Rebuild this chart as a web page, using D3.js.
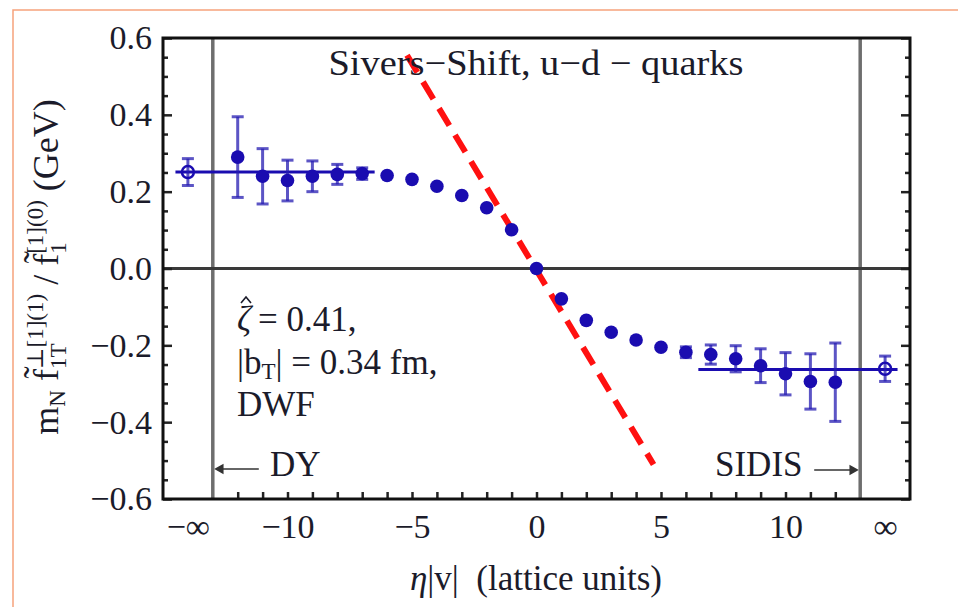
<!DOCTYPE html>
<html>
<head>
<meta charset="utf-8">
<script src="https://cdn.jsdelivr.net/npm/d3@7"></script>
<style>
  html, body { margin: 0; padding: 0; background: #fff; }
  svg { display: block; font-family: "Liberation Serif", "DejaVu Serif", serif; }
</style>
</head>
<body>
<svg id="chart" width="958" height="607"></svg>
<script>
// ---- data ----
var latticeX = [-12, -11, -10, -9, -8, -7, -6, -5, -4, -3, -2, -1, 0, 1, 2, 3, 4, 5, 6, 7, 8, 9, 10, 11, 12];
var shiftY   = [0.290, 0.240, 0.229, 0.240, 0.245, 0.247, 0.242, 0.232, 0.214, 0.190, 0.158, 0.101, 0.000,
                -0.079, -0.135, -0.166, -0.186, -0.205, -0.218, -0.224, -0.235, -0.253, -0.274, -0.294, -0.296];
var shiftErr = [0.105, 0.072, 0.053, 0.040, 0.026, 0.015, 0.010, 0.008, 0.006, 0.006, 0.006, 0.006, 0.004,
                0.006, 0.006, 0.006, 0.008, 0.010, 0.014, 0.025, 0.034, 0.044, 0.055, 0.072, 0.102];

// extrapolated values at -inf (DY) and +inf (SIDIS), drawn at the infinity tick slots
var limitX   = [-14, 14];
var limitY   = [0.251, -0.261];
var limitErr = [0.035, 0.033];

// plateau fits
var fitLines = [
  { x0: -14.5, x1: -6.5, y: 0.251 },
  { x0: 6.5, x1: 14.5, y: -0.263 }
];

// red dashed slope line
var slopeLine = [[-5.2, 0.555], [4.7, -0.51]];

var xTickValues = [-14, -10, -5, 0, 5, 10, 14];
var xTickLabels = ["\u2212\u221e", "\u221210", "\u22125", "0", "5", "10", "\u221e"];
var xMinorTicks = [-12, -11, -10, -9, -8, -7, -6, -5, -4, -3, -2, -1, 0, 1, 2, 3, 4, 5, 6, 7, 8, 9, 10, 11, 12];
var yTickValues = [-0.6, -0.4, -0.2, 0.0, 0.2, 0.4, 0.6];
var yMinorTicks = [-0.55, -0.5, -0.45, -0.35, -0.3, -0.25, -0.15, -0.1, -0.05, 0.05, 0.1, 0.15, 0.25, 0.3, 0.35, 0.45, 0.5, 0.55];
var infLines = [-13, 13];

// ---- drawing ----
var svg = d3.select('#chart');
var pLeft = 163, pRight = 910, pTop = 38, pBottom = 499;

var x = d3.scaleLinear().domain([-15, 15]).range([pLeft, pRight]);
var y = d3.scaleLinear().domain([-0.6, 0.6]).range([pBottom, pTop]);

var blue = '#1a0cb0';
var errBlue = 'rgba(38,28,178,0.75)';
var textCol = '#1b1b2a';

function measure(str, size) {
  var t = svg.append('text').attr('font-size', size).text(str);
  var w = t.node().getComputedTextLength();
  t.remove();
  return w;
}

// outer orange border (from the source figure)
svg.append('path')
  .attr('d', 'M13,607 L13,10 L958,10')
  .attr('fill', 'none').attr('stroke', '#f6a27c').attr('stroke-width', 1.5);

// infinity separators and zero line
svg.append('g').selectAll('line').data(infLines).join('line')
  .attr('x1', function(d) { return x(d); }).attr('x2', function(d) { return x(d); })
  .attr('y1', pTop).attr('y2', pBottom)
  .attr('stroke', '#6e6e6e').attr('stroke-width', 3.5);

svg.append('line')
  .attr('x1', pLeft).attr('x2', pRight).attr('y1', y(0)).attr('y2', y(0))
  .attr('stroke', '#3a3a3a').attr('stroke-width', 3);

// ticks (inward) via d3 axes
function noLabels() { return ''; }
function styleTicks(g) { g.select('.domain').remove(); g.selectAll('line').attr('stroke', '#222').attr('stroke-width', 2.5); }

svg.append('g').attr('transform', 'translate(0,' + pBottom + ')')
  .call(d3.axisBottom(x).tickValues(xMinorTicks).tickSize(-7).tickFormat(noLabels))
  .call(styleTicks);

svg.append('g').attr('transform', 'translate(0,' + pBottom + ')')
  .call(d3.axisBottom(x).tickValues(xTickValues).tickSize(0).tickPadding(15)
    .tickFormat(function(d, i) { return xTickLabels[i]; }))
  .call(function(g) {
    g.select('.domain').remove();
    g.selectAll('text').attr('font-size', 34).attr('fill', textCol)
      .attr('font-family', '"Liberation Serif", serif');
  });

[[d3.axisLeft, pLeft], [d3.axisRight, pRight]].forEach(function(a) {
  var mk = a[0], pos = a[1];
  svg.append('g').attr('transform', 'translate(' + pos + ',0)')
    .call(mk(y).tickValues(yMinorTicks).tickSize(-5).tickFormat(noLabels))
    .call(styleTicks);
  svg.append('g').attr('transform', 'translate(' + pos + ',0)')
    .call(mk(y).tickValues(yTickValues).tickSize(-9).tickFormat(noLabels))
    .call(styleTicks);
});

svg.append('g').attr('transform', 'translate(' + pLeft + ',0)')
  .call(d3.axisLeft(y).tickValues(yTickValues).tickSize(0).tickPadding(11)
    .tickFormat(function(d) { return d3.format('.1f')(d).replace('-', '\u2212'); }))
  .call(function(g) {
    g.select('.domain').remove();
    g.selectAll('text').attr('font-size', 34).attr('fill', textCol)
      .attr('font-family', '"Liberation Serif", serif');
  });

// frame
svg.append('rect')
  .attr('x', pLeft).attr('y', pTop).attr('width', pRight - pLeft).attr('height', pBottom - pTop)
  .attr('fill', 'none').attr('stroke', '#111').attr('stroke-width', 3);

// plateau fit lines
svg.append('g').selectAll('line').data(fitLines).join('line')
  .attr('x1', function(d) { return x(d.x0); }).attr('x2', function(d) { return x(d.x1); })
  .attr('y1', function(d) { return y(d.y); }).attr('y2', function(d) { return y(d.y); })
  .attr('stroke', blue).attr('stroke-width', 3);

// error bars
function drawErrors(xs, ys, es) {
  var g = svg.append('g').attr('stroke', errBlue).attr('stroke-width', 3);
  xs.forEach(function(xv, i) {
    if (es[i] < 0.012) return;
    var cx = x(xv), y0 = y(ys[i] - es[i]), y1 = y(ys[i] + es[i]);
    g.append('line').attr('x1', cx).attr('x2', cx).attr('y1', y0).attr('y2', y1);
    g.append('line').attr('x1', cx - 6).attr('x2', cx + 6).attr('y1', y0).attr('y2', y0);
    g.append('line').attr('x1', cx - 6).attr('x2', cx + 6).attr('y1', y1).attr('y2', y1);
  });
}
drawErrors(latticeX, shiftY, shiftErr);
drawErrors(limitX, limitY, limitErr);

// red dashed line
svg.append('path')
  .datum(slopeLine)
  .attr('d', d3.line().x(function(d) { return x(d[0]); }).y(function(d) { return y(d[1]); }))
  .attr('fill', 'none').attr('stroke', '#ff1010').attr('stroke-width', 6)
  .attr('stroke-dasharray', '20,11');

// points
svg.append('g').selectAll('circle').data(latticeX).join('circle')
  .attr('cx', function(d) { return x(d); })
  .attr('cy', function(d, i) { return y(shiftY[i]); })
  .attr('r', 6.8).attr('fill', blue);

svg.append('g').selectAll('circle').data(limitX).join('circle')
  .attr('cx', function(d) { return x(d); })
  .attr('cy', function(d, i) { return y(limitY[i]); })
  .attr('r', 6).attr('fill', 'none').attr('stroke', blue).attr('stroke-width', 2.5);

// title
svg.append('text').attr('x', 536).attr('y', 75).attr('text-anchor', 'middle')
  .attr('font-size', 36).attr('fill', textCol)
  .attr('textLength', 415).attr('lengthAdjust', 'spacingAndGlyphs')
  .text('Sivers\u2212Shift, u\u2212d \u2212 quarks');

// parameter annotation
var ann = svg.append('g').attr('font-size', 35).attr('fill', textCol);
ann.append('text').attr('x', 237).attr('y', 331).attr('font-style', 'italic').text('\u03b6');
// hat over zeta
ann.append('path').attr('d', 'M241,303 L246,297 L251,303')
  .attr('fill', 'none').attr('stroke', textCol).attr('stroke-width', 1.6);
ann.append('text').attr('x', 258).attr('y', 331).text('= 0.41,');
var t2 = ann.append('text').attr('x', 237).attr('y', 374);
t2.append('tspan').text('|b');
t2.append('tspan').attr('font-size', 23).attr('dy', 5).text('T');
t2.append('tspan').attr('dy', -5).text('| = 0.34 fm,');
ann.append('text').attr('x', 237).attr('y', 416).text('DWF');

// DY / SIDIS markers
var arrows = svg.append('g').attr('stroke', '#333').attr('stroke-width', 1.5).attr('fill', '#333');
arrows.append('line').attr('x1', x(-13) + 6).attr('x2', x(-13) + 46).attr('y1', 469).attr('y2', 469);
arrows.append('path').attr('d', 'M' + (x(-13) + 3) + ',469 l7,-4 l0,8 z');
arrows.append('line').attr('x1', x(13) - 46).attr('x2', x(13) - 6).attr('y1', 470).attr('y2', 470);
arrows.append('path').attr('d', 'M' + (x(13) - 3) + ',470 l-7,-4 l0,8 z');
svg.append('text').attr('x', 270).attr('y', 476).attr('font-size', 35).attr('fill', textCol).text('DY');
svg.append('text').attr('x', 715).attr('y', 476).attr('font-size', 35).attr('fill', textCol).text('SIDIS');

// x label
var xl = svg.append('text').attr('x', 536).attr('y', 590).attr('text-anchor', 'middle')
  .attr('font-size', 35).attr('fill', textCol);
xl.append('tspan').attr('font-style', 'italic').text('\u03b7');
xl.append('tspan').text('|v|\u00a0\u00a0(lattice units)');

// y label (rotated), stacked sub/superscripts aligned by measuring
var mainFs = 36, scriptFs = 23;
var sup1 = '\u22a5[1](1)', sub1 = '1T', sup2 = '[1](0)', sub2 = '1';
var wSup1 = measure(sup1, scriptFs), wSub1 = measure(sub1, scriptFs);
var wSup2 = measure(sup2, scriptFs), wSub2 = measure(sub2, scriptFs);
var yl = svg.append('text').attr('transform', 'translate(58,267) rotate(-90)')
  .attr('text-anchor', 'middle').attr('font-size', mainFs).attr('fill', textCol);
yl.append('tspan').text('m');
yl.append('tspan').attr('font-size', scriptFs).attr('dy', 7).text('N');
yl.append('tspan').attr('dy', -7).text(' f\u0303');
yl.append('tspan').attr('font-size', scriptFs).attr('dy', -15).text(sup1);
yl.append('tspan').attr('font-size', scriptFs).attr('dx', -wSup1).attr('dy', 23).text(sub1);
yl.append('tspan').attr('dx', wSup1 - wSub1).attr('dy', -8).text(' / f\u0303');
yl.append('tspan').attr('font-size', scriptFs).attr('dy', -15).text(sup2);
yl.append('tspan').attr('font-size', scriptFs).attr('dx', -wSup2).attr('dy', 23).text(sub2);
yl.append('tspan').attr('dx', wSup2 - wSub2).attr('dy', -8).text(' (GeV)');
</script>
</body>
</html>
